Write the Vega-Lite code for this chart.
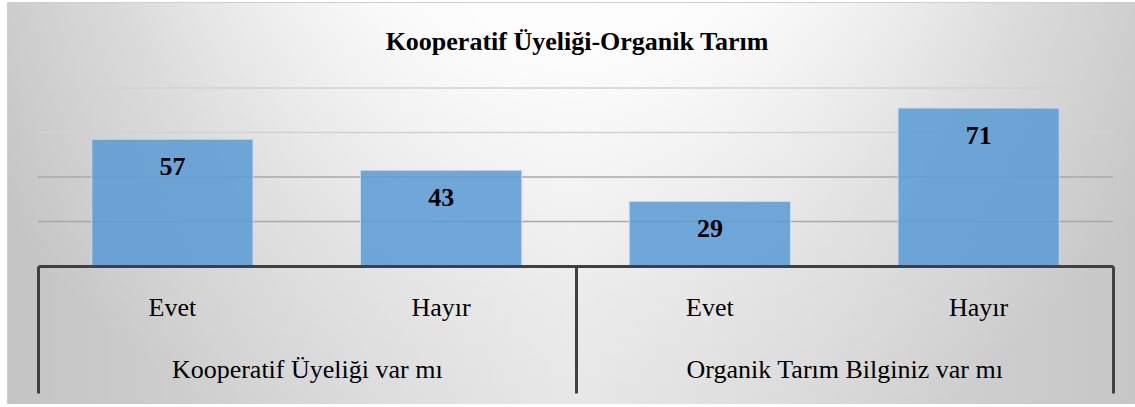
{
  "$schema": "https://vega.github.io/schema/vega-lite/v6.json",
  "width": 1128,
  "height": 401,
  "autosize": {"type": "none"},
  "padding": {"left": 8, "top": 3, "right": 0, "bottom": 0},
  "background": "white",
  "view": {"stroke": "#bfbfbf", "strokeWidth": 1.5, "fill": null},
  "title": {
    "text": "Kooperatif Üyeliği-Organik Tarım",
    "font": "Times New Roman, Tinos, Liberation Serif, Noto Serif, DejaVu Serif, FreeSerif, serif",
    "fontSize": 26,
    "fontWeight": "bold",
    "color": "#000000",
    "anchor": "middle",
    "frame": "group",
    "offset": -52,
    "dx": 5
  },
  "datasets": {
    "cevaplar": [
      {"grup": "Kooperatif Üyeliği var mı", "kod": "Kooperatif Üyeliği var mı|Evet", "deger": 57},
      {"grup": "Kooperatif Üyeliği var mı", "kod": "Kooperatif Üyeliği var mı|Hayır", "deger": 43},
      {"grup": "Organik Tarım Bilginiz var mı", "kod": "Organik Tarım Bilginiz var mı|Evet", "deger": 29},
      {"grup": "Organik Tarım Bilginiz var mı", "kod": "Organik Tarım Bilginiz var mı|Hayır", "deger": 71}
    ],
    "izgara": [{"v": 20}, {"v": 40}, {"v": 60}, {"v": 80}],
    "zemin": [{}]
  },
  "layer": [
    {
      "data": {"name": "zemin"},
      "mark": {
        "type": "rect",
        "fill": {
          "gradient": "linear", "x1": 0, "y1": 0, "x2": 1, "y2": 0,
          "stops": [
            {"offset": 0, "color": "#c4c4c4"},
            {"offset": 0.5, "color": "#e3e3e3"},
            {"offset": 1, "color": "#c6c6c6"}
          ]
        }
      },
      "encoding": {}
    },
    {
      "data": {"name": "zemin"},
      "mark": {
        "type": "rect",
        "fill": {
          "gradient": "radial", "x1": 0.5, "y1": 0.15, "r1": 0, "x2": 0.5, "y2": 0.15, "r2": 0.62,
          "stops": [
            {"offset": 0, "color": "rgba(255,255,255,1)"},
            {"offset": 0.35, "color": "rgba(255,255,255,0.92)"},
            {"offset": 0.7, "color": "rgba(255,255,255,0.3)"},
            {"offset": 1, "color": "rgba(255,255,255,0)"}
          ]
        }
      },
      "encoding": {}
    },
    {
      "data": {"name": "izgara"},
      "mark": {"type": "rule", "strokeWidth": 1.5},
      "encoding": {
        "y": {"field": "v", "type": "quantitative", "axis": null},
        "x": {"datum": 0, "type": "quantitative", "scale": {"domain": [0, 1], "range": [30, 1105]}, "axis": null},
        "x2": {"datum": 1},
        "color": {"condition": {"test": "datum.v <= 40", "value": "#a8a8a8"}, "value": "#d2d2d2"}
      }
    },
    {
      "data": {"name": "cevaplar"},
      "mark": {"type": "bar", "fill": "#5b9bd5", "fillOpacity": 0.86, "stroke": "#c5dcf0", "strokeWidth": 1},
      "encoding": {
        "x": {
          "field": "kod", "type": "nominal", "sort": null,
          "scale": {"range": [30, 1105], "paddingInner": 0.4, "paddingOuter": 0.2},
          "axis": {
            "orient": "bottom", "offset": -138, "domain": false, "ticks": false, "grid": false, "zindex": 1,
            "labelPadding": 28, "labelFont": "Times New Roman, Tinos, Liberation Serif, Noto Serif, DejaVu Serif, FreeSerif, serif", "labelFontSize": 26,
            "labelColor": "#000000", "labelAngle": 0, "labelLimit": 500, "title": null,
            "labelExpr": "split(datum.value, '|')[1]"
          }
        },
        "y": {
          "field": "deger", "type": "quantitative",
          "scale": {"domain": [0, 80], "range": [263, 85], "nice": false, "zero": true},
          "axis": null
        }
      }
    },
    {
      "data": {"name": "cevaplar"},
      "mark": {"type": "text", "font": "Times New Roman, Tinos, Liberation Serif, Noto Serif, DejaVu Serif, FreeSerif, serif", "fontSize": 26, "fontWeight": "bold", "color": "#000000", "baseline": "middle", "dy": 28},
      "encoding": {
        "x": {
          "field": "kod", "type": "nominal", "sort": null,
          "scale": {"range": [30, 1105], "paddingInner": 0.4, "paddingOuter": 0.2},
          "axis": null
        },
        "y": {"field": "deger", "type": "quantitative"},
        "text": {"field": "deger", "type": "quantitative"}
      }
    },
    {
      "data": {"name": "cevaplar"},
      "mark": {"type": "point", "opacity": 0},
      "encoding": {
        "x": {
          "field": "grup", "type": "nominal", "sort": null,
          "scale": {"range": [30, 1105], "paddingInner": 0, "paddingOuter": 0},
          "axis": {
            "orient": "bottom", "offset": -138, "grid": false, "zindex": 1,
            "domain": true, "domainColor": "#404040", "domainWidth": 3,
            "ticks": true, "tickBand": "extent", "tickSize": 127, "tickWidth": 3, "tickColor": "#404040",
            "labelPadding": -37, "labelFont": "Times New Roman, Tinos, Liberation Serif, Noto Serif, DejaVu Serif, FreeSerif, serif", "labelFontSize": 26,
            "labelColor": "#000000", "labelAngle": 0, "labelLimit": 500, "title": null
          }
        }
      }
    }
  ],
  "resolve": {"scale": {"x": "independent"}, "axis": {"x": "independent"}}
}
